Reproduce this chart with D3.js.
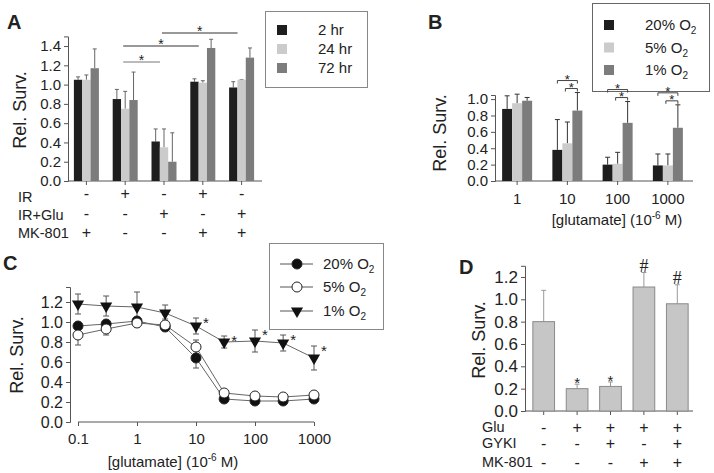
<!DOCTYPE html>
<html><head><meta charset="utf-8">
<script src="https://cdn.jsdelivr.net/npm/d3@7"></script>
<style>
body{margin:0;background:#fff}
svg{font-family:"Liberation Sans",Arial,sans-serif;}
</style></head><body>
<svg id="c" width="714" height="473"></svg>
<script>
// ---------- DATA ----------
// Panel A
const aGroups = ["g1","g2","g3","g4","g5"];
const aSeries = ["2 hr","24 hr","72 hr"];
const a2hr  = [1.05, 0.85, 0.41, 1.03, 0.97];
const a24hr = [1.05, 0.75, 0.35, 1.02, 1.05];
const a72hr = [1.17, 0.84, 0.20, 1.38, 1.28];
const a2hrErr  = [0.03, 0.10, 0.13, 0.03, 0.06];
const a24hrErr = [0.05, 0.18, 0.19, 0.02, 0.00];
const a72hrErr = [0.20, 0.29, 0.30, 0.09, 0.10];
const aRowLabels = ["IR","IR+Glu","MK-801"];
const aRows = [["-","+","-","+","-"],["-","-","+","-","+"],["+","-","-","+","+"]];
const aSig = [[1,2,0],[1,3,1],[2,4,2]]; // from group, to group, level
const aTicks = [0,0.2,0.4,0.6,0.8,1.0,1.2,1.4];
// Panel B
const bGroups = ["1","10","100","1000"];
const bSeries = ["20% O","5% O","1% O"];
const b20 = [0.88, 0.38, 0.20, 0.19];
const b5  = [0.95, 0.46, 0.21, 0.19];
const b1  = [0.98, 0.86, 0.71, 0.65];
const b20Err = [0.16, 0.37, 0.09, 0.14];
const b5Err  = [0.11, 0.26, 0.14, 0.14];
const b1Err  = [0.04, 0.22, 0.26, 0.28];
const bBrackets = [1,2,3];
const bTicks = [0,0.2,0.4,0.6,0.8,1.0];
// Panel C
const cX = [0.1, 0.3, 1, 3, 10, 30, 100, 300, 1000];
const c20 = [0.96, 0.98, 1.01, 0.95, 0.64, 0.23, 0.21, 0.21, 0.23];
const c20Err = [0.03, 0.03, 0.03, 0.03, 0.10, 0.02, 0.02, 0.02, 0.02];
const c5 = [0.87, 0.93, 0.99, 0.97, 0.75, 0.29, 0.26, 0.25, 0.27];
const c5Err = [0.10, 0.06, 0.04, 0.06, 0.07, 0.03, 0.02, 0.02, 0.02];
const c1 = [1.18, 1.16, 1.15, 1.09, 0.96, 0.80, 0.81, 0.79, 0.64];
const c1Err = [0.10, 0.10, 0.15, 0.08, 0.08, 0.06, 0.11, 0.08, 0.12];
const cStars = [10, 30, 100, 300, 1000];
const cXTicks = [0.1, 1, 10, 100, 1000];
const cYTicks = [0,0.2,0.4,0.6,0.8,1.0,1.2];
// Panel D
const dGroups = ["d1","d2","d3","d4","d5"];
const dVals = [0.80, 0.20, 0.22, 1.11, 0.96];
const dErr  = [0.28, 0.04, 0.04, 0.13, 0.17];
const dMarks = ["", "*", "*", "#", "#"];
const dRowLabels = ["Glu","GYKI","MK-801"];
const dRows = [["-","+","+","+","+"],["-","-","+","-","+"],["-","-","-","+","+"]];
const dTicks = [0,0.2,0.4,0.6,0.8,1.0,1.2];

// ---------- STYLE ----------
const colBlack = "#1e1e1e", colLight = "#cbcbcb", colDark = "#7c7c7c";
const txt = "#222", axCol = "#555";
const svg = d3.select("#c");
const f1 = d3.format(".1f");

function styleAxis(g, fs){
  g.selectAll("path,line").attr("stroke", axCol).attr("stroke-width", 1);
  g.selectAll("text").attr("fill", txt).style("font-size", fs+"px");
}
function yLabel(x, y, fs){
  svg.append("text").attr("transform",`translate(${x},${y}) rotate(-90)`)
    .attr("text-anchor","middle").attr("fill",txt).style("font-size",fs+"px").text("Rel. Surv.");
}
function panelLetter(x, y, t){
  svg.append("text").attr("x",x).attr("y",y).attr("fill",txt)
    .style("font-size","20px").style("font-weight","bold").text(t);
}
function glutLabel(g, x, y, fs){
  const t = g.append("text").attr("x",x).attr("y",y).attr("text-anchor","middle")
    .attr("fill",txt).style("font-size",fs+"px");
  t.append("tspan").text("[glutamate] (10");
  t.append("tspan").attr("dy",-6).style("font-size",(fs-5)+"px").text("-6");
  t.append("tspan").attr("dy",6).text(" M)");
}

// ---------- PANEL A ----------
(function(){
  const x = d3.scaleBand().domain(aGroups).range([67, 261]);
  const xs = d3.scaleBand().domain(aSeries).range([-12.5, 12.5]).padding(0);
  const y = d3.scaleLinear().domain([0, 1.5]).range([181, 36.4]);
  const vals = [a2hr, a24hr, a72hr], errs = [a2hrErr, a24hrErr, a72hrErr], cols = [colBlack, colLight, colDark];
  const g = svg.append("g");
  const ya = g.append("g").attr("transform","translate(68,0)")
    .call(d3.axisLeft(y).tickValues(aTicks).tickFormat(f1).tickSize(4).tickPadding(3));
  styleAxis(ya, 15);
  const xa = g.append("g").attr("transform","translate(0,181)")
    .call(d3.axisBottom(x).tickSize(4).tickFormat(""));
  xa.select("path").attr("d","M68,0H262");
  styleAxis(xa, 15);
  aSeries.forEach((s, si) => {
    const data = aGroups.map((gname, i) => ({g: gname, v: vals[si][i], e: errs[si][i]}));
    const cx = d => x(d.g) + x.bandwidth()/2 + xs(s);
    g.selectAll(null).data(data).enter().append("line")
      .attr("x1", d => cx(d) + xs.bandwidth()/2).attr("x2", d => cx(d) + xs.bandwidth()/2)
      .attr("y1", d => y(d.v)).attr("y2", d => y(d.v + d.e)).attr("stroke","#666");
    g.selectAll(null).data(data).enter().append("line")
      .attr("x1", d => cx(d) + xs.bandwidth()/2 - 2).attr("x2", d => cx(d) + xs.bandwidth()/2 + 2)
      .attr("y1", d => y(d.v + d.e)).attr("y2", d => y(d.v + d.e)).attr("stroke","#666");
    g.selectAll(null).data(data).enter().append("rect")
      .attr("x", cx).attr("width", xs.bandwidth()).attr("y", d => y(d.v))
      .attr("height", d => y(0) - y(d.v)).attr("fill", cols[si]);
  });
  // significance lines
  const sigY = [62, 46, 33];
  aSig.forEach(([a, b, lv]) => {
    const x1 = x(aGroups[a]) + x.bandwidth()/2 - 2, x2 = x(aGroups[b]) + x.bandwidth()/2 - 4;
    g.append("line").attr("x1",x1).attr("x2",x2).attr("y1",sigY[lv]).attr("y2",sigY[lv])
      .attr("stroke", lv===0 ? "#777" : "#333").attr("stroke-width",1);
    g.append("text").attr("x",(x1+x2)/2).attr("y",sigY[lv]+3).attr("text-anchor","middle")
      .attr("fill",txt).style("font-size","14px").text("*");
  });
  // rows
  const rowY = [193, 213, 232], labY = [197, 215, 233];
  aRowLabels.forEach((l, r) => {
    g.append("text").attr("x",18).attr("y",labY[r]).attr("dy","0.35em").attr("fill",txt)
      .style("font-size","14.5px").text(l);
    g.selectAll(null).data(aGroups).enter().append("text")
      .attr("x", (d) => x(d) + x.bandwidth()/2).attr("y", rowY[r]).attr("dy","0.35em")
      .attr("text-anchor","middle").attr("fill",txt).style("font-size","16px")
      .text((d,i) => aRows[r][i]);
  });
  yLabel(26, 110, 18);
  panelLetter(7, 29, "A");
  // legend
  g.append("rect").attr("x",265.5).attr("y",11.5).attr("width",102).attr("height",76)
    .attr("fill","#fff").attr("stroke","#888");
  aSeries.forEach((s, i) => {
    g.append("rect").attr("x",277).attr("y",25 + i*19).attr("width",10).attr("height",10).attr("fill",cols[i]);
    g.append("text").attr("x",318).attr("y",30 + i*19).attr("dy","0.35em").attr("fill",txt)
      .style("font-size","15px").text(s);
  });
})();

// ---------- PANEL B ----------
(function(){
  const x = d3.scaleBand().domain(bGroups).range([492, 693]);
  const xs = d3.scaleBand().domain(bSeries).range([-15, 15]);
  const y = d3.scaleLinear().domain([0, 1.05]).range([181, 95]);
  const vals = [b20, b5, b1], errs = [b20Err, b5Err, b1Err], cols = [colBlack, colLight, colDark];
  const g = svg.append("g");
  // legend (drawn first so brackets overlay it)
  g.append("rect").attr("x",592.5).attr("y",3.5).attr("width",117).attr("height",88)
    .attr("fill","#fff").attr("stroke","#666");
  bSeries.forEach((s, i) => {
    g.append("rect").attr("x",604).attr("y",20 + i*22.5).attr("width",10).attr("height",10).attr("fill",cols[i]);
    const t = g.append("text").attr("x",645).attr("y",25 + i*22.5).attr("dy","0.35em").attr("fill",txt)
      .style("font-size","15px");
    t.append("tspan").text(s);
    t.append("tspan").attr("dy",4).style("font-size","10px").text("2");
  });
  const ya = g.append("g").attr("transform","translate(495,0)")
    .call(d3.axisLeft(y).tickValues(bTicks).tickFormat(f1).tickSize(4).tickPadding(3));
  styleAxis(ya, 15);
  const xa = g.append("g").attr("transform","translate(0,181)")
    .call(d3.axisBottom(x).tickSize(4).tickPadding(8));
  xa.select("path").attr("d","M495,0H693");
  styleAxis(xa, 15);
  bSeries.forEach((s, si) => {
    const data = bGroups.map((gname, i) => ({g: gname, v: vals[si][i], e: errs[si][i]}));
    const cx = d => x(d.g) + x.bandwidth()/2 + xs(s);
    g.selectAll(null).data(data).enter().append("line")
      .attr("x1", d => cx(d) + xs.bandwidth()/2).attr("x2", d => cx(d) + xs.bandwidth()/2)
      .attr("y1", d => y(d.v)).attr("y2", d => y(d.v + d.e)).attr("stroke","#333");
    g.selectAll(null).data(data).enter().append("line")
      .attr("x1", d => cx(d) + xs.bandwidth()/2 - 2.5).attr("x2", d => cx(d) + xs.bandwidth()/2 + 2.5)
      .attr("y1", d => y(d.v + d.e)).attr("y2", d => y(d.v + d.e)).attr("stroke","#333");
    g.selectAll(null).data(data).enter().append("rect")
      .attr("x", cx).attr("width", xs.bandwidth()).attr("y", d => y(d.v))
      .attr("height", d => y(0) - y(d.v)).attr("fill", cols[si]);
  });
  // brackets
  bBrackets.forEach(i => {
    const c = x(bGroups[i]) + x.bandwidth()/2;
    const xb = c + xs(bSeries[0]) + xs.bandwidth()/2;
    const xl = c + xs(bSeries[1]) + xs.bandwidth()/2 - 2;
    const xd = c + xs(bSeries[2]) + xs.bandwidth()/2;
    const low = y(b1[i] + b1Err[i]) - 4, up = low - 8;
    [[xb, xd, up],[xl, xd, low]].forEach(([p, q, yy]) => {
      g.append("path").attr("d",`M${p},${yy+3}V${yy}H${q}V${yy+3}`).attr("fill","none")
        .attr("stroke","#444").attr("stroke-width",1);
      g.append("text").attr("x",(p+q)/2).attr("y",yy+3).attr("text-anchor","middle")
        .attr("fill",txt).style("font-size","13px").text("*");
    });
  });
  glutLabel(g, 617, 225, 15);
  yLabel(446, 133, 18);
  panelLetter(428, 29, "B");
})();

// ---------- PANEL C ----------
(function(){
  const x = d3.scaleLog().domain([0.1, 1000]).range([78, 314]);
  const y = d3.scaleLinear().domain([0, 1.35]).range([422, 287]);
  const g = svg.append("g");
  const ya = g.append("g").attr("transform","translate(70,0)")
    .call(d3.axisLeft(y).tickValues(cYTicks).tickFormat(f1).tickSize(4).tickPadding(3));
  styleAxis(ya, 16);
  const xa = g.append("g").attr("transform","translate(0,422)")
    .call(d3.axisBottom(x).tickValues(cXTicks).tickFormat(d3.format("")).tickSize(4).tickPadding(7));
  xa.select("path").attr("d","M78,0H314");
  styleAxis(xa, 15);
  const series = [
    {v:c20, e:c20Err, type:"filled"},
    {v:c5,  e:c5Err,  type:"open"},
    {v:c1,  e:c1Err,  type:"tri"}
  ];
  const line = d3.line().x(d => x(d.x)).y(d => y(d.v));
  series.forEach(s => {
    const data = cX.map((xx, i) => ({x: xx, v: s.v[i], e: s.e[i]}));
    g.append("path").datum(data).attr("d", line).attr("fill","none").attr("stroke","#666").attr("stroke-width",1);
    g.selectAll(null).data(data).enter().append("path")
      .attr("d", d => `M${x(d.x)},${y(d.v - d.e)}V${y(d.v + d.e)}M${x(d.x)-3},${y(d.v + d.e)}H${x(d.x)+3}M${x(d.x)-3},${y(d.v - d.e)}H${x(d.x)+3}`)
      .attr("stroke","#555").attr("fill","none");
  });
  series.forEach(s => {
    const data = cX.map((xx, i) => ({x: xx, v: s.v[i]}));
    if (s.type === "tri") {
      const sym = d3.symbol().type(d3.symbolTriangle).size(64);
      g.selectAll(null).data(data).enter().append("path").attr("d", sym)
        .attr("transform", d => `translate(${x(d.x)},${y(d.v)}) rotate(180)`).attr("fill","#111");
    } else {
      g.selectAll(null).data(data).enter().append("circle")
        .attr("cx", d => x(d.x)).attr("cy", d => y(d.v)).attr("r", 5)
        .attr("fill", s.type === "filled" ? "#111" : "#fff").attr("stroke", "#222");
    }
  });
  cStars.forEach(sx => {
    const i = cX.indexOf(sx);
    g.append("text").attr("x", x(sx) + 10).attr("y", y(c1[i] + c1Err[i]) + 10).attr("text-anchor","middle")
      .attr("fill",txt).style("font-size","15px").text("*");
  });
  glutLabel(g, 173, 467, 15);
  yLabel(23, 355, 18);
  panelLetter(3, 270, "C");
  // legend
  g.append("rect").attr("x",269.5).attr("y",243.5).attr("width",114).attr("height",86)
    .attr("fill","#fff").attr("stroke","#888");
  const ly = [264, 287, 311];
  series.forEach((s, i) => {
    g.append("line").attr("x1",280).attr("x2",313).attr("y1",ly[i]).attr("y2",ly[i]).attr("stroke","#555");
    if (s.type === "tri") {
      g.append("path").attr("d", d3.symbol().type(d3.symbolTriangle).size(64))
        .attr("transform",`translate(297,${ly[i]}) rotate(180)`).attr("fill","#111");
    } else {
      g.append("circle").attr("cx",297).attr("cy",ly[i]).attr("r",5)
        .attr("fill", s.type === "filled" ? "#111" : "#fff").attr("stroke","#222");
    }
    const t = g.append("text").attr("x",323).attr("y",ly[i]).attr("dy","0.35em").attr("fill",txt)
      .style("font-size","15px");
    t.append("tspan").text(bSeries[i]);
    t.append("tspan").attr("dy",4).style("font-size","10px").text("2");
  });
})();

// ---------- PANEL D ----------
(function(){
  const x = d3.scaleBand().domain(dGroups).range([527, 694]).paddingInner(0.32).paddingOuter(0.16);
  const y = d3.scaleLinear().domain([0, 1.3]).range([411, 265.8]);
  const g = svg.append("g");
  const ya = g.append("g").attr("transform","translate(525,0)")
    .call(d3.axisLeft(y).tickValues(dTicks).tickFormat(f1).tickSize(4).tickPadding(3));
  styleAxis(ya, 17);
  const xa = g.append("g").attr("transform","translate(0,411)")
    .call(d3.axisBottom(x).tickSize(4).tickFormat(""));
  xa.select("path").attr("d","M525,0H693");
  styleAxis(xa, 15);
  const data = dGroups.map((gname, i) => ({g: gname, v: dVals[i], e: dErr[i], m: dMarks[i]}));
  const cx = d => x(d.g) + x.bandwidth()/2;
  g.selectAll(null).data(data).enter().append("path")
    .attr("d", d => `M${cx(d)},${y(d.v)}V${y(d.v + d.e)}M${cx(d)-2.5},${y(d.v + d.e)}H${cx(d)+2.5}`)
    .attr("stroke","#999").attr("fill","none");
  g.selectAll(null).data(data).enter().append("rect")
    .attr("x", d => x(d.g) + 0.5).attr("width", x.bandwidth() - 1).attr("y", d => y(d.v))
    .attr("height", d => y(0) - y(d.v)).attr("fill", "#c6c6c6").attr("stroke","#8a8a8a");
  g.selectAll(null).data(data.filter(d => d.m)).enter().append("text")
    .attr("x", cx).attr("y", d => d.m === "*" ? y(d.v + d.e) + 4 : y(d.v + d.e) - 1)
    .attr("text-anchor","middle").attr("fill","#222")
    .style("font-size", d => d.m === "*" ? "15px" : "18px")
    .style("font-family", d => d.m === "#" ? "'Liberation Serif',serif" : null)
    .text(d => d.m);
  const rowY = [427, 443, 462];
  dRowLabels.forEach((l, r) => {
    g.append("text").attr("x",482).attr("y",rowY[r]).attr("dy","0.35em").attr("fill",txt)
      .style("font-size","14.5px").text(l);
    g.selectAll(null).data(dGroups).enter().append("text")
      .attr("x", d => x(d) + x.bandwidth()/2).attr("y", rowY[r]).attr("dy","0.35em")
      .attr("text-anchor","middle").attr("fill",txt).style("font-size","16px")
      .text((d,i) => dRows[r][i]);
  });
  yLabel(485, 340, 18);
  panelLetter(459, 274, "D");
})();
</script>
</body></html>
